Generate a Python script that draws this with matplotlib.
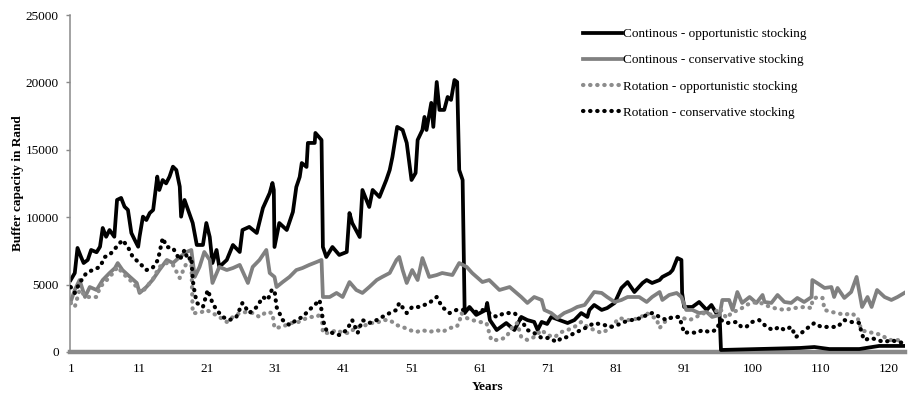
import matplotlib
matplotlib.use("Agg")
import matplotlib.pyplot as plt

plt.rcParams['font.family'] = ['Liberation Serif', 'DejaVu Serif']

# Continous - opportunistic stocking
cont_opp_years = [1.0, 1.6, 2.0, 2.5, 2.9, 3.5, 4.0, 4.8, 5.3, 5.7, 6.2, 6.7, 7.4, 7.8, 8.4, 8.9,
                  9.4, 9.9, 10.4, 10.9, 11.1, 11.6, 12.1, 12.6, 13.1, 13.7, 14.0, 14.5, 15.0, 15.5,
                  16.0, 16.5, 17.0, 17.2, 17.7, 18.9, 19.5, 20.4, 20.9, 21.4, 21.8, 22.4, 22.8,
                  23.9, 24.8, 25.8, 26.2, 27.2, 28.3, 29.2, 30.2, 30.6, 30.8, 30.9, 31.6, 32.7,
                  33.6, 34.1, 34.6, 34.9, 35.6, 35.8, 36.8, 36.9, 37.8, 38.0, 38.5, 39.4, 40.4,
                  41.5, 41.9, 42.3, 43.4, 43.8, 44.8, 45.3, 46.3, 47.3, 47.8, 48.2, 48.9, 49.7,
                  50.3, 51.0, 51.6, 51.9, 52.6, 52.9, 53.2, 53.9, 54.2, 54.7, 55.1, 55.8, 56.3,
                  56.8, 57.3, 57.7, 58.0, 58.5, 58.8, 59.5, 60.5, 61.9, 62.1, 62.5, 63.5, 64.9,
                  66.1, 67.1, 68.0, 69.0, 69.5, 70.1, 70.9, 71.5, 72.7, 73.9, 74.9, 75.9, 76.8,
                  77.1, 77.8, 78.9, 79.7, 80.8, 81.8, 82.7, 83.7, 84.9, 85.5, 86.3, 87.4, 87.8,
                  88.9, 89.3, 90.0, 90.6, 90.7, 91.0, 92.2, 93.2, 94.3, 95.0, 95.7, 96.2, 96.4,
                  102.0, 108.0, 110.1, 112.3, 116.7, 119.6, 123.3]
cont_opp_vals = [5340, 5860, 7720, 7070, 6600, 6830, 7570, 7400, 7810, 9200, 8550, 9050, 8550,
                 11280, 11430, 10780, 10540, 8830, 8310, 7810, 8550, 10040, 9790, 10310, 10540,
                 13010, 12020, 12760, 12510, 13010, 13750, 13500, 12270, 10040, 11280, 9570,
                 7940, 7940, 9570, 8530, 6600, 7570, 6310, 6830, 7940, 7420, 9050, 9280, 8830,
                 10680, 11800, 12540, 12020, 7790, 9570, 9050, 10390, 12240, 12990, 14020, 13730,
                 15510, 15510, 16250, 15730, 7790, 7050, 7790, 7200, 7420, 10310, 9570, 8530,
                 12020, 10760, 12020, 11500, 12760, 13500, 14470, 16700, 16470, 15510, 12760,
                 13280, 15730, 16470, 17440, 16470, 18480, 16700, 20030, 17960, 17960, 18920,
                 18700, 20180, 20030, 13500, 12760, 2890, 3340, 2750, 3120, 3640, 2370, 1630,
                 2150, 1630, 2600, 2370, 2230, 1630, 2230, 2080, 2600, 2370, 2150, 2370, 2890,
                 2600, 3120, 3490, 3120, 3260, 3640, 4750, 5190, 4450, 5120, 5340, 5120, 5340,
                 5570, 5860, 6080, 6970, 6830, 4380, 3340, 3340, 3710, 3120, 3490, 2890, 2750,
                 150, 220, 300, 370, 220, 220, 450, 450]

# Continous - conservative stocking
cont_cons_years = [1.0, 1.6, 2.3, 3.1, 3.8, 4.8, 5.7, 6.7, 7.5, 7.9, 8.6, 9.7, 10.7, 11.1, 12.1,
                   13.0, 14.0, 15.1, 16.0, 17.0, 18.0, 18.7, 19.2, 19.9, 20.6, 21.4, 21.8, 22.8,
                   23.9, 24.8, 25.8, 27.0, 27.7, 28.7, 29.7, 30.2, 30.9, 31.2, 32.1, 33.1, 34.1,
                   35.0, 36.0, 37.1, 37.8, 38.0, 39.0, 40.0, 40.9, 41.9, 42.9, 43.8, 44.8, 45.9,
                   46.7, 47.8, 48.8, 49.2, 49.7, 50.3, 51.1, 51.9, 52.6, 53.6, 54.7, 55.5, 57.0,
                   58.0, 59.1, 59.9, 61.4, 62.4, 63.9, 65.4, 66.4, 67.1, 68.0, 69.0, 70.1, 70.5,
                   71.5, 72.4, 73.4, 74.5, 75.3, 76.4, 77.8, 78.9, 79.7, 80.8, 81.8, 82.7, 84.4,
                   85.5, 86.3, 87.4, 87.8, 88.8, 89.9, 90.6, 91.3, 92.2, 93.2, 94.3, 95.1, 96.2,
                   96.6, 97.6, 98.1, 98.8, 99.5, 100.6, 101.6, 102.5, 102.8, 103.8, 104.7, 105.7,
                   106.7, 107.6, 108.6, 109.7, 109.8, 110.5, 111.6, 112.6, 113.0, 113.5, 114.5,
                   115.5, 116.3, 117.1, 117.9, 118.5, 119.3, 120.4, 121.4, 122.3, 123.3]
cont_cons_vals = [3730, 4600, 5340, 4080, 4820, 4600, 5340, 5860, 6230, 6600, 6080, 5570, 5120,
                  4380, 4820, 5340, 6080, 6830, 6600, 7050, 7420, 7570, 5570, 6310, 7420, 6830,
                  5120, 6310, 6080, 6230, 6460, 5120, 6310, 6830, 7570, 5860, 5570, 4820, 5190,
                  5570, 6080, 6230, 6460, 6680, 6830, 4080, 4080, 4380, 4080, 5190, 4600, 4380,
                  4820, 5340, 5570, 5860, 6830, 7050, 6080, 5120, 6080, 5340, 6970, 5570, 5710,
                  5860, 5710, 6600, 6310, 5860, 5190, 5340, 4600, 4820, 4380, 4080, 3640, 4080,
                  3860, 3120, 2890, 2520, 2890, 3120, 3340, 3490, 4450, 4380, 4080, 3710, 3860,
                  4080, 4080, 3710, 4080, 4450, 3860, 4230, 4380, 4080, 3120, 3120, 2890, 2970,
                  2600, 2750, 3860, 3860, 3120, 4450, 3640, 4080, 3640, 4230, 3710, 3640, 4230,
                  3710, 3640, 4010, 3710, 4080, 5340, 5120, 4750, 4820, 4080, 4750, 4010, 4450,
                  5570, 3340, 4080, 3340, 4600, 4080, 3860, 4080, 4380]

# Rotation - opportunistic stocking
rot_opp_years = [1.0, 1.6, 2.3, 3.3, 4.8, 5.3, 6.3, 7.2, 7.9, 8.6, 9.7, 10.7, 11.4, 12.1, 13.0,
                 14.0, 15.1, 16.0, 17.0, 18.0, 18.7, 18.9, 19.9, 20.9, 21.8, 22.8, 23.9, 24.8,
                 25.8, 26.8, 27.7, 28.7, 29.7, 30.6, 30.9, 32.1, 33.1, 34.1, 35.0, 36.0, 37.1,
                 37.8, 38.0, 39.0, 40.0, 40.9, 41.9, 42.9, 43.8, 44.8, 45.9, 46.7, 47.8, 48.8,
                 49.7, 50.7, 51.7, 52.6, 53.6, 54.7, 55.5, 56.6, 57.6, 58.0, 58.3, 59.1, 59.9,
                 61.0, 62.0, 62.7, 63.9, 64.9, 65.8, 66.5, 67.1, 68.0, 69.0, 70.1, 70.9, 72.0,
                 73.0, 73.9, 74.9, 75.9, 76.8, 77.8, 78.9, 79.7, 80.8, 81.5, 82.7, 83.4, 84.7,
                 85.5, 86.3, 86.9, 87.4, 88.4, 89.3, 90.3, 91.8, 92.8, 93.7, 94.7, 95.4, 96.2,
                 97.2, 98.1, 99.1, 100.1, 101.0, 102.0, 102.8, 104.2, 105.7, 107.2, 108.6, 109.7,
                 109.8, 110.5, 111.3, 111.6, 112.6, 113.5, 114.5, 115.5, 116.4, 117.0, 117.9,
                 118.9, 119.9, 121.1, 122.3, 123.3]
rot_opp_vals = [3640, 3340, 4600, 4080, 4080, 4820, 5340, 5860, 6310, 5860, 5340, 4820, 4380,
                4820, 5340, 6310, 6600, 6460, 5490, 6600, 6830, 2890, 2890, 3120, 2890, 2600,
                2230, 2600, 2890, 2970, 2890, 2600, 2970, 2890, 1780, 1860, 2150, 2150, 2370,
                2600, 2600, 2890, 1410, 1410, 1630, 1410, 1410, 1860, 1860, 2150, 2150, 2370,
                2370, 2000, 1860, 1630, 1480, 1630, 1480, 1630, 1480, 1780, 1860, 2150, 2890,
                2520, 2370, 2230, 2150, 890, 890, 1110, 1860, 2150, 1110, 890, 1110, 1630, 1260,
                1110, 1480, 1630, 1860, 2230, 1860, 1630, 1410, 1630, 2150, 2520, 2370, 2370,
                2600, 2890, 2600, 2520, 1780, 2370, 2600, 2600, 2370, 2600, 2890, 2750, 2890,
                3260, 2520, 2970, 3120, 3490, 3640, 3710, 3490, 3260, 3120, 3260, 3340, 3260,
                3860, 4080, 4010, 3120, 2970, 2890, 2750, 2890, 2600, 1630, 1480, 1410, 1260,
                890, 890, 740]

# Rotation - conservative stocking
rot_cons_years = [1.0, 1.6, 2.3, 3.3, 4.2, 5.3, 6.0, 6.7, 7.7, 8.6, 9.4, 10.1, 11.1, 12.1, 13.0,
                  13.8, 14.5, 15.1, 16.0, 17.0, 17.7, 18.2, 18.7, 18.9, 19.2, 19.5, 20.4, 21.1,
                  21.8, 22.4, 23.3, 24.3, 25.3, 26.2, 27.2, 28.3, 29.2, 29.9, 30.5, 30.9, 31.2,
                  32.1, 33.1, 34.1, 35.0, 36.0, 37.1, 37.5, 37.8, 38.0, 38.5, 39.4, 40.4, 41.5,
                  42.3, 43.1, 43.8, 44.8, 45.9, 46.7, 47.8, 48.8, 49.2, 50.3, 51.1, 52.2, 53.6,
                  54.7, 55.5, 56.6, 57.6, 58.5, 59.5, 60.5, 61.4, 62.4, 63.5, 64.6, 66.1, 67.1,
                  68.0, 69.0, 70.1, 71.2, 72.3, 73.0, 73.9, 74.9, 75.9, 76.8, 77.8, 79.3, 80.3,
                  81.2, 82.2, 83.3, 84.7, 85.5, 86.3, 87.4, 88.4, 89.3, 90.3, 91.0, 91.8, 92.8,
                  93.7, 94.7, 95.7, 96.4, 97.3, 98.7, 99.4, 100.1, 101.0, 102.0, 103.1, 104.0,
                  105.0, 105.7, 106.7, 107.4, 108.2, 109.1, 110.1, 111.1, 112.3, 113.5, 114.5,
                  115.5, 116.7, 117.0, 117.4, 118.5, 119.3, 120.4, 121.4, 122.3, 123.3]
rot_cons_vals = [4820, 4380, 5120, 5860, 6080, 6310, 7050, 7200, 7790, 8310, 7790, 7050, 6600,
                 6080, 6230, 6830, 8460, 7790, 7720, 6830, 7570, 6830, 7050, 5340, 4380, 3640,
                 3340, 4600, 3640, 3120, 2600, 2370, 2600, 3640, 2890, 3340, 4080, 3860, 4600,
                 4600, 3340, 2370, 2000, 2370, 2600, 3120, 3640, 3860, 3120, 2370, 1630, 1410,
                 1260, 1630, 2370, 1410, 2370, 2150, 2370, 2600, 2890, 3120, 3640, 2890, 3340,
                 3340, 3640, 4080, 3340, 2890, 3120, 3120, 3260, 2970, 3120, 2890, 2600, 2890,
                 2890, 2370, 1630, 1410, 1040, 1040, 740, 1040, 1110, 1410, 1630, 1860, 2150,
                 2000, 1860, 2000, 2230, 2370, 2520, 2750, 2890, 2600, 2370, 2600, 2600, 1410,
                 1480, 1410, 1630, 1480, 1630, 2370, 2150, 2230, 1860, 1860, 2230, 2370, 1860,
                 1630, 1860, 1630, 1860, 1110, 1410, 1780, 2150, 1860, 1860, 1860, 2370, 2230,
                 2150, 1480, 890, 1040, 890, 740, 890, 740, 670]

tick_pos = [1, 11, 21, 31, 41, 51, 61, 71, 81, 91, 101, 111, 121]
tick_labels = ['1', '11', '21', '31', '41', '51', '61', '71', '81', '91', '100', '110', '120']

fig = plt.figure(figsize=(9.08, 3.94), dpi=100)
ax = fig.add_axes([0.0771, 0.1066, 0.9196, 0.8553])

axis_grey = '#898989'
# round-dot style: tiny dash with round caps, gap in linewidth units
dots = dict(linestyle=(0, (0.1, 1.6)), dash_capstyle='round', linewidth=3.0)

ax.plot(cont_opp_years, cont_opp_vals, color='black', linewidth=2.7,
        solid_joinstyle='round', label='Continous - opportunistic stocking', zorder=2)
ax.plot(cont_cons_years, cont_cons_vals, color='#808080', linewidth=2.7,
        solid_joinstyle='round', label='Continous - conservative stocking', zorder=3)
ax.plot(rot_opp_years, rot_opp_vals, color='#8c8c8c', label='Rotation - opportunistic stocking',
        zorder=4, **dots)
ax.plot(rot_cons_years, rot_cons_vals, color='black', label='Rotation - conservative stocking',
        zorder=5, **dots)

ax.set_xlim(0.9, 123.4)
ax.set_ylim(0, 25000)
ax.set_yticks(range(0, 25001, 5000))
ax.set_xticks(tick_pos)
ax.set_xticklabels(tick_labels)

for side in ('top', 'right'):
    ax.spines[side].set_visible(False)
ax.spines['left'].set_color(axis_grey)
ax.spines['left'].set_linewidth(1.1)
ax.spines['bottom'].set_color(axis_grey)
ax.spines['bottom'].set_linewidth(3.2)
ax.spines['bottom'].set_zorder(1)

ax.tick_params(axis='y', direction='out', length=3, width=1, color=axis_grey,
               labelsize=9.5, pad=5)
ax.tick_params(axis='x', length=0, labelsize=9.5, pad=8)

ax.set_ylabel('Buffer capacity in Rand', fontsize=9.5, fontweight='bold', labelpad=1)
ax.set_xlabel('Years', fontsize=9.5, fontweight='bold', labelpad=4)

fig.legend(loc='upper left', bbox_to_anchor=(0.636, 0.942), frameon=False, fontsize=9.5,
           handlelength=3.0, handletextpad=0.05, labelspacing=1.05, borderaxespad=0)

fig.savefig('out.png', dpi=100)
